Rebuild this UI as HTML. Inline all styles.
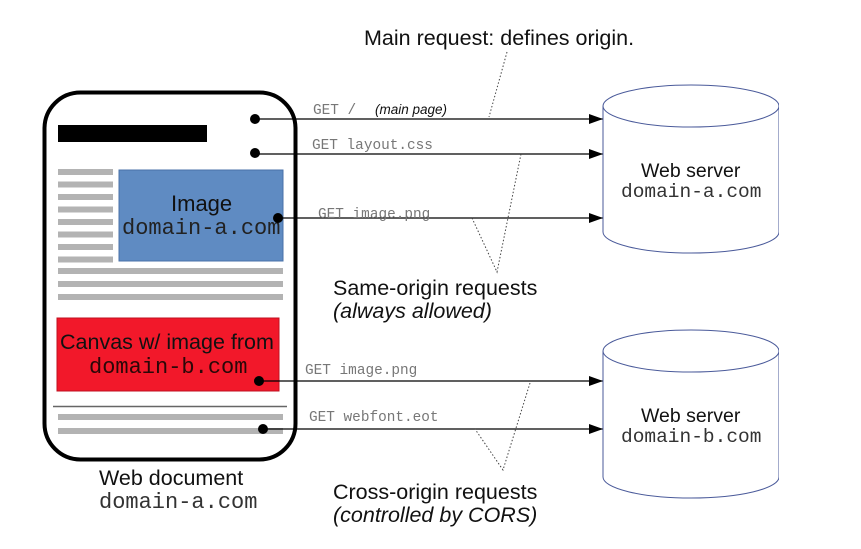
<!DOCTYPE html>
<html><head><meta charset="utf-8"><style>
html,body{margin:0;padding:0;background:#fff;}
svg{display:block;}
.s{font-family:"Liberation Sans",sans-serif;fill:#111;}
.m{font-family:"Liberation Mono",monospace;fill:#333;}
.g{font-family:"Liberation Mono",monospace;fill:#777;font-size:14.4px;}
</style></head><body>
<svg width="861" height="549" viewBox="0 0 861 549" xmlns="http://www.w3.org/2000/svg">
<defs>
<marker id="ah" markerWidth="14" markerHeight="10" refX="14" refY="5" orient="auto" markerUnits="userSpaceOnUse">
<path d="M0,0 L14,5 L0,10 Z" fill="#000"/></marker>
<clipPath id="cl"><rect x="0" y="0" width="779" height="549"/></clipPath>
</defs>
<rect x="44.5" y="92.5" width="251" height="367" rx="36" ry="36" fill="#fff" stroke="#000" stroke-width="4"/>
<rect x="58" y="125" width="149" height="17" fill="#000"/>
<g fill="#b3b3b3">
<rect x="58" y="169" width="55" height="6"/><rect x="58" y="181.5" width="55" height="6"/>
<rect x="58" y="194" width="55" height="6"/><rect x="58" y="206.5" width="55" height="6"/>
<rect x="58" y="219" width="55" height="6"/><rect x="58" y="231.5" width="55" height="6"/>
<rect x="58" y="244" width="55" height="6"/><rect x="58" y="256.5" width="55" height="6"/>
<rect x="58" y="268" width="225" height="6"/><rect x="58" y="281" width="225" height="6"/>
<rect x="58" y="294" width="225" height="6"/>
<rect x="58" y="414" width="225" height="6"/><rect x="58" y="428" width="225" height="6"/>
</g>
<line x1="53" y1="406.5" x2="287" y2="406.5" stroke="#666" stroke-width="1.5"/>
<rect x="119" y="170" width="164" height="91" fill="#5f8bc2" stroke="#4a72a8"/>
<text x="171" y="211" class="s" font-size="22">Image</text>
<text x="122" y="234" class="m" font-size="22" style="fill:#222">domain-a.com</text>
<rect x="57" y="318" width="222" height="73" fill="#f2182a" stroke="#c01020"/>
<text x="60" y="349" class="s" font-size="21.5">Canvas w/ image from</text>
<text x="89" y="373" class="m" font-size="22" style="fill:#2a0808">domain-b.com</text>
<text x="99" y="485" class="s" font-size="21.5">Web document</text>
<text x="99" y="508" class="m" font-size="22">domain-a.com</text>
<g stroke="#000" stroke-width="1.2" marker-end="url(#ah)">
<line x1="255" y1="119" x2="603" y2="119"/>
<line x1="255" y1="154" x2="603" y2="154"/>
<line x1="278" y1="218" x2="603" y2="218"/>
<line x1="259" y1="381" x2="603" y2="381"/>
<line x1="263" y1="429" x2="603" y2="429"/>
</g>
<g fill="#000">
<circle cx="255" cy="119" r="5"/><circle cx="255" cy="153" r="5"/>
<circle cx="278" cy="218" r="5"/><circle cx="259" cy="381" r="5"/>
<circle cx="263" cy="429" r="5"/>
</g>
<text x="313" y="114" class="g">GET /</text>
<text x="375" y="114" class="s" font-size="13.5" font-style="italic">(main page)</text>
<text x="312" y="149" class="g">GET layout.css</text>
<text x="318" y="218" class="g">GET image.png</text>
<text x="305" y="374" class="g">GET image.png</text>
<text x="309" y="421" class="g">GET webfont.eot</text>
<g stroke="#444" stroke-width="1" stroke-dasharray="1.5,2" fill="none">
<line x1="507" y1="52" x2="489" y2="117"/>
<polyline points="521,154 497,272 472,218"/>
<polyline points="530,383 503,470 475,429"/>
</g>
<text x="364" y="45" class="s" font-size="21.5">Main request: defines origin.</text>
<text x="333" y="295" class="s" font-size="21.5">Same-origin requests</text>
<text x="333" y="318" class="s" font-size="21.5" font-style="italic">(always allowed)</text>
<text x="333" y="499" class="s" font-size="21.5">Cross-origin requests</text>
<text x="333" y="522" class="s" font-size="21.5" font-style="italic">(controlled by CORS)</text>
<g clip-path="url(#cl)" stroke="#4a5a9a" stroke-width="1" fill="#fff">
<path d="M603,106 L603,232 A88,21 0 0 0 779,232 L779,106"/>
<ellipse cx="691" cy="106" rx="88" ry="21"/>
<path d="M603,351 L603,477 A88,21 0 0 0 779,477 L779,351"/>
<ellipse cx="691" cy="351" rx="88" ry="21"/>
</g>
<rect x="779" y="100" width="10" height="400" fill="#fff"/>
<text x="641" y="177" class="s" font-size="19.5">Web server</text>
<text x="621" y="197" class="m" font-size="19.5">domain-a.com</text>
<text x="641" y="422" class="s" font-size="19.5">Web server</text>
<text x="621" y="442" class="m" font-size="19.5">domain-b.com</text>
</svg>
</body></html>
